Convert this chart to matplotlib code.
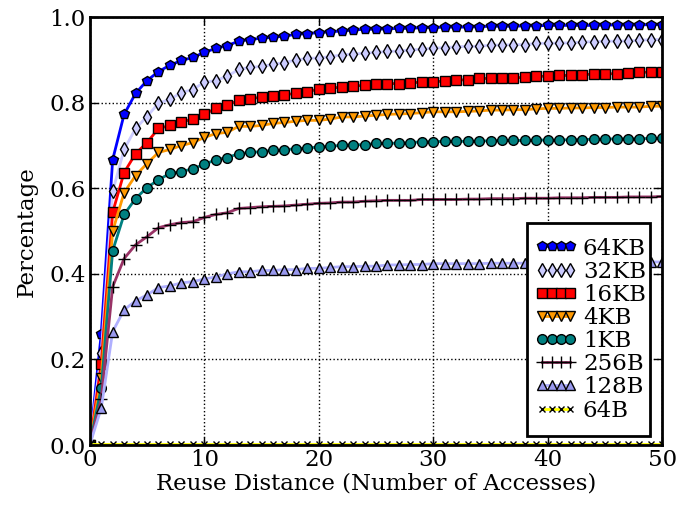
import matplotlib
matplotlib.use("Agg")
import matplotlib.pyplot as plt
from matplotlib.patches import Rectangle
import numpy as np

distance = list(range(0, 51))

labels = ["64KB", "32KB", "16KB", "4KB", "1KB", "256B", "128B", "64B"]

kb64 = [0.0, 0.259, 0.667, 0.773, 0.822, 0.852, 0.873, 0.888, 0.899, 0.906,
        0.918, 0.927, 0.934, 0.944, 0.948, 0.951, 0.953, 0.956, 0.960, 0.962,
        0.964, 0.966, 0.968, 0.970, 0.972, 0.972, 0.973, 0.974, 0.974, 0.976,
        0.976, 0.977, 0.977, 0.977, 0.978, 0.979, 0.979, 0.979, 0.980, 0.980,
        0.981, 0.981, 0.981, 0.981, 0.981, 0.982, 0.982, 0.982, 0.982, 0.983,
        0.983]
kb32 = [0.0, 0.215, 0.593, 0.691, 0.740, 0.768, 0.799, 0.808, 0.824, 0.831,
        0.848, 0.852, 0.862, 0.878, 0.883, 0.885, 0.890, 0.894, 0.900, 0.904,
        0.905, 0.908, 0.912, 0.914, 0.916, 0.918, 0.920, 0.921, 0.924, 0.925,
        0.928, 0.929, 0.931, 0.932, 0.932, 0.935, 0.935, 0.936, 0.936, 0.939,
        0.939, 0.940, 0.940, 0.942, 0.943, 0.944, 0.944, 0.945, 0.946, 0.948,
        0.948]
kb16 = [0.0, 0.189, 0.544, 0.637, 0.681, 0.707, 0.740, 0.747, 0.754, 0.763,
        0.773, 0.787, 0.794, 0.806, 0.810, 0.813, 0.815, 0.819, 0.822, 0.826,
        0.832, 0.834, 0.837, 0.839, 0.841, 0.843, 0.845, 0.845, 0.846, 0.849,
        0.849, 0.851, 0.853, 0.854, 0.857, 0.857, 0.858, 0.858, 0.860, 0.862,
        0.862, 0.864, 0.864, 0.866, 0.867, 0.868, 0.868, 0.870, 0.871, 0.872,
        0.872]
kb4 = [0.0, 0.157, 0.500, 0.590, 0.630, 0.658, 0.684, 0.691, 0.700, 0.707,
       0.719, 0.728, 0.731, 0.745, 0.745, 0.747, 0.752, 0.754, 0.757, 0.759,
       0.759, 0.762, 0.767, 0.767, 0.769, 0.771, 0.773, 0.774, 0.775, 0.777,
       0.779, 0.779, 0.779, 0.780, 0.781, 0.783, 0.783, 0.784, 0.784, 0.786,
       0.787, 0.787, 0.788, 0.788, 0.789, 0.789, 0.790, 0.790, 0.790, 0.792,
       0.792]
kb1 = [0.0, 0.133, 0.454, 0.539, 0.576, 0.602, 0.620, 0.635, 0.639, 0.646,
       0.656, 0.667, 0.672, 0.681, 0.684, 0.686, 0.689, 0.690, 0.693, 0.694,
       0.697, 0.698, 0.701, 0.702, 0.702, 0.705, 0.705, 0.706, 0.707, 0.709,
       0.709, 0.710, 0.710, 0.710, 0.711, 0.711, 0.712, 0.712, 0.712, 0.713,
       0.713, 0.713, 0.714, 0.714, 0.715, 0.715, 0.716, 0.716, 0.716, 0.717,
       0.717]
b256 = [0.0, 0.107, 0.370, 0.436, 0.468, 0.487, 0.508, 0.515, 0.520, 0.522,
        0.532, 0.539, 0.543, 0.553, 0.555, 0.557, 0.558, 0.559, 0.561, 0.563,
        0.565, 0.566, 0.568, 0.568, 0.570, 0.571, 0.572, 0.572, 0.572, 0.574,
        0.574, 0.574, 0.574, 0.575, 0.575, 0.576, 0.576, 0.576, 0.577, 0.577,
        0.577, 0.578, 0.578, 0.578, 0.579, 0.579, 0.579, 0.580, 0.580, 0.580,
        0.581]
b128 = [0.0, 0.086, 0.265, 0.316, 0.337, 0.351, 0.368, 0.372, 0.379, 0.382,
        0.388, 0.393, 0.400, 0.405, 0.405, 0.408, 0.408, 0.410, 0.410, 0.413,
        0.413, 0.415, 0.417, 0.417, 0.418, 0.418, 0.421, 0.421, 0.422, 0.422,
        0.424, 0.424, 0.424, 0.424, 0.424, 0.425, 0.425, 0.425, 0.425, 0.426,
        0.426, 0.426, 0.426, 0.426, 0.427, 0.427, 0.427, 0.427, 0.427, 0.428,
        0.428]
b64 = [0.002] * 51

series = [kb64, kb32, kb16, kb4, kb1, b256, b128, b64]
styles = [
    dict(color="#0000ff", marker="p", mfc="#0000ff", ms=7.5),
    dict(color="#ccccff", marker="d", mfc="#ccccff", ms=7.5),
    dict(color="#ff0000", marker="s", mfc="#ff0000", ms=6.5),
    dict(color="#ff9900", marker="v", mfc="#ff9900", ms=7),
    dict(color="#008080", marker="o", mfc="#008080", ms=7),
    dict(color="#993366", marker="+", mfc="none", ms=8),
    dict(color="#b0b0ff", marker="^", mfc="#9999ee", ms=7.5),
    dict(color="#ffff00", marker="x", mfc="none", ms=5),
]

plt.rcParams["font.family"] = ["DejaVu Serif"]
plt.rcParams["font.size"] = 16.5

fig = plt.figure(figsize=(6.8, 5.08), dpi=100)
ax = fig.add_axes([0.132, 0.124, 0.842, 0.842])

for lab, ys, st in zip(labels, series, styles):
    ax.plot(distance, ys, label=lab, color=st["color"], lw=2,
            marker=st["marker"], markerfacecolor=st["mfc"],
            markeredgecolor="black", markeredgewidth=1, markersize=st["ms"])

ax.set_xlim(0, 50)
ax.set_ylim(0, 1.0)
ax.set_xticks([0, 10, 20, 30, 40, 50])
ax.set_yticks([0.0, 0.2, 0.4, 0.6, 0.8, 1.0])
ax.set_yticklabels(["0.0", "0.2", "0.4", "0.6", "0.8", "1.0"])
ax.tick_params(direction="in", top=True, right=True, length=6, width=1,
               labelsize=16.5, pad=3)
ax.grid(True, color="black", linestyle=":", linewidth=1)
for s in ax.spines.values():
    s.set_linewidth(2)
ax.set_xlabel("Reuse Distance (Number of Accesses)", fontsize=16.5, labelpad=1)
ax.set_ylabel("Percentage", fontsize=16.5, labelpad=8)

# legend frame (old-style padding: wider vertically than horizontally)
frame = Rectangle((0.764, 0.021), 0.215, 0.498, transform=ax.transAxes,
                  facecolor="white", edgecolor="black", linewidth=2,
                  zorder=4.9, clip_on=False)
ax.add_patch(frame)

leg = ax.legend(loc="center left", numpoints=4, handlelength=1.82,
                handletextpad=0.26, labelspacing=0.05, borderpad=0.355,
                fontsize=16.5, frameon=False,
                bbox_to_anchor=(0.764, 0.27), borderaxespad=0)
leg.set_zorder(5)

fig.savefig("out.png", dpi=100)
